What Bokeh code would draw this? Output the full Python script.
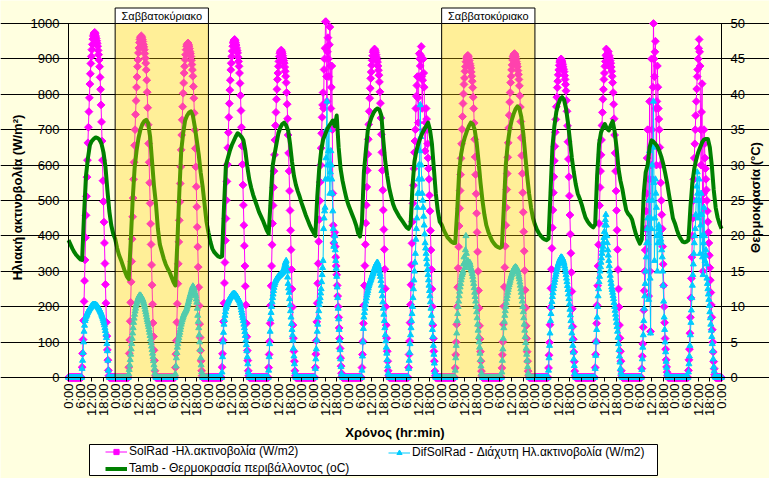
import math
from bokeh.plotting import figure
from bokeh.models import (Range1d, LinearAxis, FixedTicker, BoxAnnotation, Label,
                          Legend, LegendItem, Grid)
from bokeh.embed import file_html
from bokeh.resources import INLINE

# ---------------- data ----------------
DAYS = 14
TICK_NAMES = ["0:00", "6:00", "12:00", "18:00"]
WEEKENDS = [(24, 72), (192, 240)]          # hours (days 1-2 and 8-9)
WEEKEND_LABEL = "Σαββατοκύριακο"

# daytime samples every 15 min from 7:00 to 20:45 (zero at night)
DAY_TIMES = [7.0 + 0.25 * k for k in range(56)]

solrad = [
    [29, 68, 107, 161, 215, 273, 332, 395, 458, 512, 566, 614, 663, 707, 751, 790, 829, 858, 887, 907, 926, 941, 956, 965, 970, 973, 975, 971,
     965, 958, 951, 944, 936, 924, 912, 897, 878, 848, 814, 770, 722, 668, 614, 556, 497, 439, 380, 322, 263, 210, 156, 117, 78, 49, 20, 5],
    [29, 68, 106, 159, 212, 270, 328, 391, 454, 507, 560, 608, 656, 700, 743, 782, 820, 849, 878, 897, 917, 931, 946, 955, 960, 963, 965, 961,
     955, 949, 941, 934, 926, 915, 902, 888, 869, 840, 806, 762, 714, 661, 608, 550, 492, 434, 376, 318, 261, 207, 154, 116, 77, 48, 19, 5],
    [28, 66, 104, 156, 208, 265, 321, 383, 444, 496, 548, 595, 643, 685, 728, 765, 803, 832, 860, 879, 898, 912, 926, 936, 940, 943, 945, 941,
     936, 929, 921, 915, 907, 896, 884, 869, 851, 822, 789, 747, 699, 647, 595, 539, 482, 425, 369, 312, 255, 203, 151, 113, 76, 47, 19, 5],
    [29, 67, 105, 158, 210, 267, 325, 387, 449, 501, 554, 602, 649, 692, 735, 774, 812, 840, 869, 888, 907, 922, 936, 945, 950, 953, 955, 951,
     945, 939, 931, 924, 917, 905, 893, 879, 860, 831, 797, 754, 707, 654, 602, 544, 487, 430, 372, 315, 258, 205, 153, 115, 76, 48, 19, 5],
    [28, 65, 102, 153, 204, 259, 315, 375, 435, 486, 537, 583, 629, 671, 712, 749, 786, 814, 842, 860, 879, 893, 907, 916, 920, 923, 925, 921,
     916, 909, 902, 895, 888, 877, 865, 851, 833, 805, 772, 731, 685, 634, 583, 527, 472, 416, 361, 305, 250, 199, 148, 111, 74, 46, 19, 5],
    [28, 66, 104, 157, 210, 266, 322, 384, 446, 499, 552, 600, 648, 690, 735, 770, 805, 760, 870, 900, 930, 1005, 1005, 850, 780, 920, 960, 900,
     850, 940, 990, 880, 760, 820, 880, 700, 520, 430, 380, 400, 410, 370, 340, 315, 290, 260, 230, 200, 170, 140, 110, 82, 55, 32, 12, 3],
    [28, 65, 102, 153, 204, 260, 316, 376, 436, 487, 538, 585, 631, 673, 715, 752, 789, 817, 845, 863, 882, 896, 909, 919, 923, 926, 928, 924,
     919, 912, 905, 898, 891, 880, 868, 854, 835, 807, 775, 733, 687, 636, 585, 529, 473, 418, 362, 306, 251, 200, 148, 111, 74, 46, 19, 5],
    [28, 65, 103, 155, 206, 262, 318, 379, 440, 492, 543, 590, 636, 668, 700, 760, 795, 825, 850, 790, 720, 850, 915, 900, 880, 910, 935, 850,
     760, 840, 900, 860, 820, 700, 640, 720, 760, 730, 700, 660, 620, 590, 560, 515, 470, 415, 360, 305, 250, 200, 148, 110, 74, 46, 18, 5],
    [27, 64, 100, 150, 200, 255, 309, 369, 428, 478, 528, 573, 619, 660, 701, 737, 774, 801, 828, 846, 865, 878, 892, 901, 905, 908, 910, 906,
     901, 895, 887, 881, 874, 863, 851, 837, 819, 792, 760, 719, 673, 623, 573, 519, 464, 410, 355, 300, 246, 196, 146, 109, 73, 46, 18, 5],
    [27, 64, 101, 151, 201, 256, 311, 371, 430, 480, 531, 576, 622, 663, 705, 741, 778, 805, 833, 851, 869, 883, 897, 906, 910, 913, 915, 911,
     906, 899, 892, 886, 878, 867, 856, 842, 824, 796, 764, 723, 677, 627, 576, 522, 467, 412, 357, 302, 247, 197, 146, 110, 73, 46, 18, 5],
    [27, 63, 99, 149, 198, 252, 306, 365, 423, 473, 522, 567, 612, 653, 693, 729, 765, 792, 819, 837, 855, 869, 882, 891, 896, 898, 900, 896,
     891, 885, 878, 871, 864, 853, 842, 828, 810, 783, 752, 711, 666, 617, 567, 513, 459, 405, 351, 297, 243, 194, 144, 108, 72, 45, 18, 5],
    [28, 65, 102, 153, 204, 259, 315, 375, 435, 486, 537, 583, 629, 671, 712, 749, 786, 814, 842, 860, 879, 893, 910, 928, 905, 885, 916, 921,
     880, 909, 902, 895, 888, 877, 865, 851, 833, 805, 772, 731, 685, 634, 583, 527, 472, 416, 361, 305, 250, 199, 148, 111, 74, 46, 19, 5],
    [25, 60, 95, 142, 190, 245, 300, 360, 420, 470, 520, 620, 700, 420, 230, 560, 780, 300, 130, 600, 900, 700, 560, 820, 1000, 900, 850, 920,
     950, 760, 600, 780, 880, 820, 760, 730, 700, 650, 600, 550, 500, 460, 420, 370, 320, 260, 200, 155, 110, 80, 50, 30, 15, 5, 0, 0],
    [20, 50, 80, 125, 170, 225, 280, 340, 400, 450, 500, 560, 620, 660, 700, 740, 780, 815, 850, 870, 900, 930, 955, 920, 880, 700, 600, 750,
     830, 500, 300, 520, 700, 660, 620, 590, 560, 530, 500, 470, 440, 410, 380, 345, 310, 275, 240, 205, 170, 135, 100, 72, 45, 25, 8, 2],
]

difsolrad = [
    [25, 48, 70, 100, 130, 147, 160, 166, 172, 175, 178, 182, 185, 188, 190, 193, 195, 197, 199, 201, 202, 204, 205, 206, 206, 206, 206, 206,
     205, 204, 203, 202, 200, 198, 196, 194, 191, 188, 185, 182, 178, 174, 170, 165, 160, 154, 148, 140, 132, 122, 112, 95, 75, 48, 20, 5],
    [10, 22, 35, 50, 65, 80, 95, 110, 125, 140, 155, 167, 178, 187, 195, 202, 208, 213, 218, 222, 226, 229, 232, 232, 232, 230, 228, 225,
     222, 219, 215, 210, 205, 199, 192, 185, 178, 170, 163, 157, 150, 143, 135, 127, 118, 108, 98, 88, 78, 68, 58, 47, 35, 24, 12, 4],
    [10, 32, 55, 70, 85, 95, 105, 112, 120, 127, 135, 142, 150, 156, 162, 167, 172, 176, 180, 183, 185, 188, 190, 194, 198, 203, 208, 214,
     220, 225, 230, 235, 240, 245, 250, 254, 258, 256, 252, 246, 240, 235, 230, 221, 212, 195, 175, 158, 140, 120, 100, 78, 55, 35, 15, 4],
    [15, 58, 100, 127, 150, 163, 175, 185, 195, 200, 205, 209, 212, 215, 218, 221, 224, 226, 228, 230, 232, 234, 235, 236, 236, 236, 236, 235,
     234, 232, 230, 228, 225, 223, 220, 218, 215, 210, 205, 198, 190, 183, 175, 168, 160, 150, 140, 129, 118, 105, 92, 75, 58, 38, 15, 4],
    [20, 58, 95, 130, 165, 183, 200, 213, 225, 235, 245, 254, 262, 267, 272, 275, 278, 280, 282, 284, 285, 287, 288, 289, 290, 292, 293, 295,
     296, 298, 300, 305, 310, 316, 322, 326, 330, 315, 300, 283, 265, 252, 240, 222, 205, 188, 170, 152, 135, 120, 105, 82, 60, 38, 15, 4],
    [25, 52, 80, 105, 130, 150, 170, 188, 205, 215, 225, 238, 250, 270, 290, 310, 330, 420, 450, 470, 480, 560, 620, 700, 780, 600, 560, 640,
     700, 600, 520, 580, 640, 600, 560, 520, 470, 420, 370, 385, 400, 360, 330, 308, 285, 255, 225, 195, 165, 135, 105, 78, 52, 30, 10, 3],
    [20, 60, 100, 138, 170, 183, 195, 205, 215, 224, 232, 239, 245, 252, 258, 263, 268, 272, 276, 280, 284, 288, 292, 296, 300, 304, 308, 312,
     316, 319, 322, 324, 325, 320, 315, 308, 300, 293, 285, 273, 260, 245, 230, 213, 195, 178, 160, 140, 120, 103, 85, 68, 50, 32, 12, 4],
    [25, 48, 70, 95, 120, 140, 160, 180, 200, 225, 250, 275, 300, 325, 350, 390, 420, 450, 480, 520, 560, 600, 520, 640, 770, 680, 600, 560,
     520, 500, 480, 455, 430, 405, 380, 365, 350, 335, 320, 305, 290, 275, 260, 245, 230, 213, 195, 175, 155, 135, 115, 90, 65, 40, 15, 4],
    [20, 55, 90, 125, 160, 180, 200, 215, 230, 243, 255, 265, 275, 283, 290, 295, 300, 320, 340, 325, 310, 360, 400, 350, 320, 325, 330, 322,
     315, 320, 325, 318, 310, 305, 300, 293, 285, 275, 265, 253, 240, 228, 215, 200, 185, 168, 150, 133, 115, 100, 85, 68, 50, 32, 12, 4],
    [15, 48, 80, 110, 140, 158, 175, 188, 200, 211, 222, 231, 240, 248, 255, 262, 268, 274, 280, 285, 290, 294, 298, 302, 305, 308, 310, 311,
     312, 311, 310, 307, 303, 298, 292, 285, 278, 269, 260, 250, 240, 228, 215, 200, 185, 168, 150, 133, 115, 98, 82, 65, 48, 30, 12, 4],
    [20, 55, 90, 125, 160, 180, 200, 214, 228, 239, 250, 259, 268, 276, 284, 291, 298, 304, 310, 315, 320, 324, 328, 332, 335, 338, 340, 339,
     338, 335, 332, 327, 322, 315, 308, 299, 290, 280, 270, 259, 248, 235, 222, 207, 192, 176, 160, 143, 125, 108, 90, 71, 52, 33, 13, 4],
    [25, 62, 100, 135, 170, 200, 230, 250, 270, 285, 300, 312, 325, 337, 350, 360, 370, 382, 395, 412, 430, 445, 460, 430, 400, 380, 360, 345,
     330, 315, 300, 288, 275, 265, 255, 248, 240, 231, 222, 211, 200, 189, 178, 167, 155, 143, 130, 113, 95, 78, 60, 43, 25, 14, 5, 2],
    [22, 52, 85, 120, 160, 195, 230, 265, 300, 340, 380, 420, 450, 380, 220, 500, 640, 280, 125, 450, 420, 600, 500, 650, 780, 550, 330, 450,
     560, 520, 480, 400, 300, 380, 420, 430, 420, 410, 400, 390, 380, 360, 340, 300, 260, 215, 170, 135, 100, 72, 45, 28, 12, 5, 0, 0],
    [15, 38, 60, 90, 120, 155, 190, 225, 260, 290, 320, 350, 380, 400, 420, 460, 500, 540, 580, 520, 450, 500, 560, 460, 350, 430, 520, 460,
     400, 340, 290, 380, 480, 400, 330, 345, 360, 320, 280, 265, 250, 235, 220, 203, 185, 168, 150, 133, 115, 95, 75, 52, 30, 18, 5, 2],
]

# hourly ambient temperature (°C), 0:00 .. 23:00 for each day
tamb = [
    [19.4, 18.8, 18.2, 17.7, 17.3, 17.0, 16.7, 16.6, 23.0, 28.5, 31.0, 32.8, 33.4, 33.7, 33.9, 33.8, 33.6, 33.0, 31.8, 29.8, 26.5, 23.5, 21.5, 20.3],
    [19.6, 18.3, 17.3, 16.6, 15.8, 15.0, 14.3, 13.9, 19.0, 25.0, 29.5, 32.0, 33.8, 35.0, 35.8, 36.2, 36.4, 35.9, 34.0, 30.5, 27.0, 24.5, 21.0, 18.8],
    [17.8, 16.8, 16.0, 15.4, 14.9, 14.2, 13.5, 13.0, 19.0, 26.0, 32.0, 34.5, 36.3, 37.0, 37.4, 37.6, 37.0, 35.4, 33.5, 31.5, 29.0, 27.0, 24.5, 22.0],
    [20.5, 19.2, 18.2, 17.7, 17.4, 17.1, 17.0, 17.1, 24.0, 30.0, 31.0, 32.0, 32.8, 33.4, 34.0, 34.5, 34.3, 34.0, 33.5, 32.0, 29.8, 28.0, 26.8, 25.8],
    [25.0, 24.2, 23.4, 22.8, 22.2, 21.5, 20.8, 20.3, 25.0, 29.8, 31.5, 33.0, 34.5, 35.3, 35.8, 36.0, 35.6, 34.9, 33.0, 30.5, 28.5, 27.2, 26.3, 25.5],
    [24.6, 23.8, 23.0, 22.3, 21.6, 21.0, 20.5, 20.0, 25.5, 29.5, 32.0, 33.6, 34.3, 35.0, 35.5, 35.9, 36.3, 35.5, 37.0, 32.5, 29.5, 27.8, 26.5, 25.3],
    [24.4, 23.7, 23.0, 22.3, 21.5, 20.4, 19.9, 22.0, 29.0, 32.0, 34.9, 36.0, 36.8, 37.4, 37.8, 38.0, 37.8, 37.0, 33.5, 30.5, 28.5, 26.8, 25.6, 24.5],
    [23.8, 23.3, 22.8, 22.4, 22.0, 21.6, 21.2, 21.0, 21.5, 27.0, 30.5, 32.0, 33.0, 33.8, 34.5, 35.0, 35.5, 36.0, 35.0, 33.0, 29.5, 26.0, 23.6, 22.0],
    [21.6, 20.9, 20.3, 19.8, 19.5, 19.2, 19.0, 19.0, 23.5, 29.0, 31.5, 33.0, 34.0, 34.8, 35.5, 36.0, 35.8, 35.0, 33.2, 30.5, 27.5, 25.0, 23.0, 21.5],
    [20.6, 19.9, 19.3, 18.9, 18.6, 18.4, 18.3, 18.5, 24.0, 30.0, 33.0, 35.0, 36.3, 37.2, 37.9, 38.3, 38.0, 36.8, 34.5, 31.5, 28.5, 26.0, 24.0, 22.5],
    [21.6, 20.9, 20.4, 20.0, 19.7, 19.5, 19.4, 19.6, 26.0, 32.5, 35.5, 37.5, 38.6, 39.3, 39.6, 39.2, 38.0, 36.0, 33.5, 31.0, 29.0, 27.3, 26.0, 25.3],
    [24.5, 23.5, 22.6, 22.1, 21.7, 21.4, 21.2, 21.6, 28.5, 33.0, 34.6, 35.3, 35.8, 35.2, 34.9, 35.6, 36.2, 34.8, 32.5, 29.5, 27.8, 26.6, 25.0, 23.6],
    [23.1, 22.8, 22.3, 21.2, 20.2, 19.5, 18.9, 19.5, 26.0, 29.0, 30.0, 32.5, 33.5, 33.3, 33.0, 32.6, 32.0, 31.2, 30.2, 28.9, 27.5, 25.8, 24.2, 22.5],
    [21.8, 20.9, 20.1, 19.6, 19.2, 19.1, 19.2, 19.4, 24.0, 27.5, 29.5, 30.8, 31.8, 32.5, 33.2, 33.6, 33.7, 33.7, 32.5, 30.0, 26.5, 24.0, 22.6, 21.7],
]
tamb_end = 21.0

# ---------------- series ----------------
def radiation_series(rows):
    xs, ys = [], []
    for d, row in enumerate(rows):
        vals = dict(zip(DAY_TIMES, row))
        for k in range(96):
            h = 0.25 * k
            xs.append(d * 24 + h)
            ys.append(vals.get(h, 0))
    xs.append(DAYS * 24)
    ys.append(0)
    return xs, ys

sx, sy = radiation_series(solrad)
dx, dy = radiation_series(difsolrad)
tx, ty = [], []
for d, row in enumerate(tamb):
    for h, v in enumerate(row):
        tx.append(d * 24 + h)
        ty.append(v)
tx.append(DAYS * 24)
ty.append(tamb_end)

# ---------------- layout (pixels inside the figure) ----------------
BG = "#FFFFE0"
FONT = "Liberation Sans"
W, H = 769, 478
PX_L, PX_R = 68, 721          # x pixel of hour 0 and of the last hour
PX_TOP, PX_BOT = 23, 377      # y pixel (from top) of the 1000 / 0 lines
X_MAX = DAYS * 24
x_scale = (PX_R - PX_L) / X_MAX
y_scale = (PX_BOT - PX_TOP) / 1000.0
t_scale = (PX_BOT - PX_TOP) / 50.0

x_range = Range1d(-PX_L / x_scale, X_MAX + (W - PX_R) / x_scale)
y_range = Range1d(-(H - PX_BOT) / y_scale, 1000 + PX_TOP / y_scale)
t_range = Range1d(-(H - PX_BOT) / t_scale, 50 + PX_TOP / t_scale)

p = figure(width=W, height=H, x_range=x_range, y_range=y_range,
           x_axis_location=None, y_axis_location=None,
           output_backend="svg", toolbar_location=None,
           min_border=0, min_border_left=0, min_border_right=0,
           min_border_top=0, min_border_bottom=0,
           background_fill_color=BG, border_fill_color=BG, outline_line_color=None)
p.extra_y_ranges = {"temp": t_range}

xt = list(range(0, X_MAX + 1, 6))
bottom_ax = LinearAxis(ticker=FixedTicker(ticks=xt), fixed_location=0, bounds=(0, X_MAX))
bottom_ax.major_label_overrides = {t: TICK_NAMES[(t // 6) % 4] for t in xt}
bottom_ax.major_label_orientation = math.pi / 2
left_ax = LinearAxis(ticker=FixedTicker(ticks=list(range(0, 1001, 100))), fixed_location=0, bounds=(0, 1000))
right_ax = LinearAxis(y_range_name="temp", ticker=FixedTicker(ticks=list(range(0, 51, 5))),
                      fixed_location=X_MAX, bounds=(0, 50))
p.add_layout(bottom_ax, "below")
p.add_layout(left_ax, "left")
p.add_layout(right_ax, "right")

for ax in [bottom_ax, left_ax, right_ax]:
    ax.axis_line_color = "black"
    ax.major_tick_line_color = "black"
    ax.minor_tick_line_color = None
    ax.major_tick_in = 0
    ax.major_tick_out = 5
    ax.major_label_text_font = FONT
    ax.major_label_text_font_size = "13px"
    ax.major_label_text_color = "black"
    ax.major_label_standoff = 4
bottom_ax.major_tick_out = 4
bottom_ax.major_label_standoff = 2

p.ygrid.visible = False
p.xgrid.visible = False
p.add_layout(Grid(dimension=1, ticker=FixedTicker(ticks=list(range(0, 1001, 100))),
                  bounds=(0, X_MAX), grid_line_color="black", grid_line_alpha=1, grid_line_width=1))

# series
sol_line = p.line(sx, sy, line_color="#FF00FF", line_width=1)
sol_pts = p.scatter(sx, sy, marker="square", size=5.5, angle=math.pi / 4,
                    fill_color="#FF00FF", line_color="#FF00FF")
dif_line = p.line(dx, dy, line_color="#00CCFF", line_width=1)
dif_pts = p.scatter(dx, dy, marker="triangle", size=6, fill_color="#00CCFF", line_color="#00CCFF")
t_line = p.line(tx, ty, line_color="#008000", line_width=4, y_range_name="temp", line_join="round")

# weekend shading + labels
LABEL_TOP = 1000 + (PX_TOP - 7.5) / y_scale
for a, b in WEEKENDS:
    p.add_layout(BoxAnnotation(left=a, right=b, bottom=0, top=1000,
                               fill_color="#FFCC00", fill_alpha=0.32,
                               line_color="black", line_alpha=1, line_width=1))
    p.add_layout(BoxAnnotation(left=a, right=b, bottom=1000, top=LABEL_TOP,
                               fill_color="white", fill_alpha=1,
                               line_color="black", line_alpha=1, line_width=1))
    p.add_layout(Label(x=(a + b) / 2, y=(1000 + LABEL_TOP) / 2, text=WEEKEND_LABEL,
                       text_align="center", text_baseline="middle",
                       text_font=FONT, text_font_size="11px", text_color="black"))

# axis titles
TITLE_Y = H - 197
p.add_layout(Label(x=17, y=TITLE_Y, x_units="screen", y_units="screen",
                   text="Ηλιακή ακτινοβολία (W/m²)", angle=math.pi / 2,
                   text_align="center", text_baseline="middle",
                   text_font=FONT, text_font_size="13px", text_font_style="bold", text_color="black"))
p.add_layout(Label(x=755, y=TITLE_Y, x_units="screen", y_units="screen",
                   text="Θερμοκρασία (°C)", angle=math.pi / 2,
                   text_align="center", text_baseline="middle",
                   text_font=FONT, text_font_size="13px", text_font_style="bold", text_color="black"))
p.add_layout(Label(x=X_MAX / 2, y=H - 432, y_units="screen",
                   text="Χρόνος (hr:min)",
                   text_align="center", text_baseline="middle",
                   text_font=FONT, text_font_size="13px", text_font_style="bold", text_color="black"))

# legend frame + two legend columns
p.add_layout(BoxAnnotation(left=89, right=657, bottom=H - 475, top=H - 444,
                           left_units="screen", right_units="screen",
                           bottom_units="screen", top_units="screen",
                           fill_color="white", fill_alpha=1,
                           line_color="black", line_alpha=1, line_width=1))

def make_legend(items, loc):
    lg = Legend(items=items, location=loc, orientation="vertical",
                border_line_color=None, background_fill_alpha=0,
                padding=0, margin=0, spacing=3,
                glyph_width=22, glyph_height=13, label_height=13, label_standoff=2,
                label_text_font=FONT, label_text_font_size="12px", label_text_color="black")
    p.add_layout(lg, "center")
    return lg

make_legend([LegendItem(label="SolRad -Ηλ.ακτινοβολία (W/m2)", renderers=[sol_line, sol_pts]),
             LegendItem(label="Tamb - Θερμοκρασία περιβάλλοντος (oC)", renderers=[t_line])],
            (105, H - 475))
make_legend([LegendItem(label="DifSolRad - Διάχυτη Ηλ.ακτινοβολία (W/m2)", renderers=[dif_line, dif_pts])],
            (388, H - 459))

open("out.html", "w").write(file_html(p, INLINE))
